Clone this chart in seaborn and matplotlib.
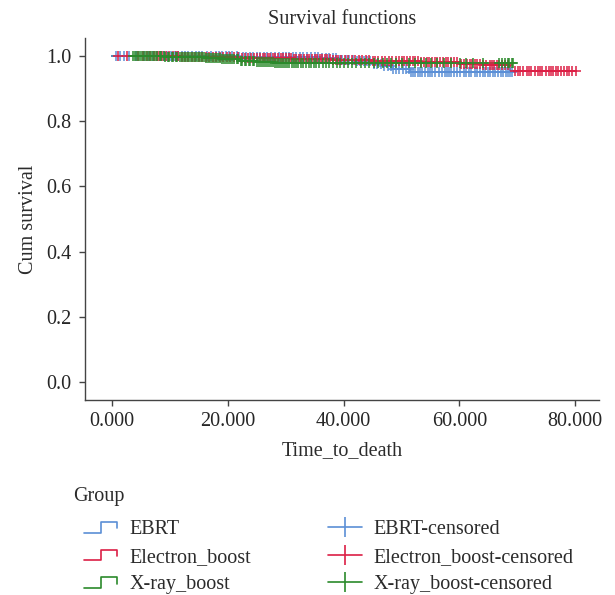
import numpy as np
import pandas as pd
import seaborn as sns
import matplotlib.pyplot as plt
from matplotlib.lines import Line2D
from matplotlib.legend_handler import HandlerBase

# Kaplan-Meier steps (time of event, survival after it)
groups = ["EBRT", "Electron_boost", "X-ray_boost"]
colors = {"EBRT": "#5b8fd6", "Electron_boost": "#dc1f45", "X-ray_boost": "#2b8a2b"}

ebrt_times = [8, 22, 36, 39, 42, 45, 46.5, 48.5, 51.5]
ebrt_surv = [0.999, 0.997, 0.993, 0.989, 0.984, 0.976, 0.968, 0.960, 0.952]
ebrt_cens = [0.6, 1.4, 2.1, 3.0, 4.2, 5.5, 6.3, 7.0, 7.7, 8.4, 9.0, 9.5, 10.2,
             10.8, 11.4, 12.0, 12.6, 13.1, 13.8, 14.5, 15.0, 15.6, 16.4, 17.1,
             17.9, 18.5, 19.0, 19.6, 20.2, 20.8, 21.5, 22.0, 22.6, 23.2, 23.8,
             24.4, 25.0, 25.6, 26.3, 26.8, 27.4, 28.1, 28.9, 29.5, 30.1, 30.6,
             31.2, 31.8, 32.4, 33.0, 33.6, 34.3, 35.0, 35.6, 36.2, 36.9, 37.5,
             38.1, 38.7, 39.3, 39.8, 40.4, 41.0, 41.6, 42.3, 42.9, 43.5, 44.0,
             44.6, 45.2, 45.8, 46.4, 47.0, 47.6, 48.1, 48.6, 49.0, 49.6, 50.2,
             50.8, 51.3, 51.7, 52.0, 52.4, 52.8, 53.2, 53.6, 54.0, 54.5, 54.9,
             55.3, 55.8, 56.4, 57.0, 57.5, 57.9, 58.2, 58.6, 59.0, 59.5, 60.1,
             60.7, 61.2, 61.6, 62.0, 62.6, 63.1, 63.5, 64.0, 64.4, 64.9, 65.3,
             65.8, 66.2, 66.7, 67.1, 67.6, 68.0, 68.4, 68.8, 69.1]

elec_times = [4, 12, 22, 31, 38, 45, 53, 60, 64, 68.8]
elec_surv = [0.999, 0.997, 0.994, 0.991, 0.988, 0.984, 0.981, 0.976, 0.971, 0.955]
elec_cens = [1.0, 2.5, 4.5, 5.3, 6.0, 6.6, 7.2, 7.7, 8.1, 8.7, 9.3, 9.9, 10.5,
             11.0, 11.4, 12.0, 12.6, 13.2, 13.8, 14.4, 15.0, 15.6, 16.2, 16.8,
             17.5, 18.0, 18.6, 19.2, 19.8, 20.4, 21.0, 21.7, 22.4, 23.0, 23.5,
             24.0, 24.6, 25.0, 25.5, 26.0, 26.4, 26.9, 27.3, 27.8, 28.2, 28.7,
             29.1, 29.6, 30.0, 30.5, 30.9, 31.4, 31.8, 32.3, 32.7, 33.2, 33.6,
             34.1, 34.5, 35.0, 35.4, 35.9, 36.3, 36.8, 37.2, 37.7, 38.1, 38.6,
             39.0, 39.6, 40.2, 40.8, 41.4, 42.0, 42.6, 43.2, 43.8, 44.4, 45.0,
             45.5, 46.0, 46.6, 47.2, 47.8, 48.4, 49.0, 49.6, 50.0, 50.5, 51.0,
             51.4, 51.9, 52.3, 52.8, 53.4, 53.9, 54.4, 54.8, 55.3, 55.8, 56.2,
             56.7, 57.1, 57.6, 58.0, 58.5, 59.0, 59.6, 60.2, 60.8, 61.3, 61.8,
             62.2, 62.6, 63.0, 63.6, 64.1, 64.6, 65.2, 65.6, 66.0, 66.5, 66.9,
             67.4, 67.8, 68.3, 69.6, 70.1, 70.5, 71.0, 71.6, 72.0, 72.4, 73.0,
             73.5, 73.9, 74.3, 74.9, 75.4, 75.8, 76.2, 76.7, 77.1, 77.6, 78.0,
             78.5, 79.0, 79.5, 80.1]

xray_times = [9, 16, 19, 22, 25, 28]
xray_surv = [0.998, 0.994, 0.990, 0.985, 0.981, 0.978]
xray_cens = [3.6, 4.0, 4.3, 4.7, 5.0, 5.4, 5.7, 6.1, 6.4, 6.8, 7.1, 7.5, 7.8,
             8.2, 8.5, 8.9, 9.2, 9.6, 9.9, 10.3, 10.6, 11.0, 11.3, 11.7, 12.0,
             12.4, 12.7, 13.1, 13.4, 13.8, 14.1, 14.5, 14.8, 15.2, 15.5, 15.9,
             16.2, 16.6, 16.9, 17.3, 17.6, 18.0, 18.3, 18.7, 19.0, 19.4, 19.7,
             20.1, 20.4, 20.8, 21.1, 21.5, 21.8, 22.2, 22.5, 22.9, 23.2, 23.6,
             23.9, 24.3, 24.6, 25.0, 25.3, 25.7, 26.0, 26.4, 26.7, 27.1, 27.4,
             27.8, 28.1, 28.5, 28.8, 29.2, 29.5, 29.9, 30.2, 30.6, 31.0, 31.4,
             31.8, 32.2, 32.6, 33.0, 33.5, 34.0, 34.4, 34.9, 35.3, 35.8, 36.4,
             36.9, 37.5, 38.1, 38.8, 39.4, 40.1, 40.8, 41.5, 42.2, 43.0, 43.7,
             44.4, 45.2, 46.0, 46.8, 47.5, 48.2, 49.0, 50.1, 51.2, 52.3, 53.4,
             54.2, 55.0, 56.1, 57.3, 58.6, 60.1, 61.2, 62.4, 64.0, 66.8, 67.4,
             67.9, 68.3, 68.6, 69.0, 69.2]

steps = {"EBRT": (ebrt_times, ebrt_surv, ebrt_cens),
         "Electron_boost": (elec_times, elec_surv, elec_cens),
         "X-ray_boost": (xray_times, xray_surv, xray_cens)}

sns.set_theme(style="ticks")
plt.rcParams["font.family"] = ["Liberation Serif", "DejaVu Serif"]
plt.rcParams["text.color"] = "#2b2b2b"
plt.rcParams["axes.labelcolor"] = "#2b2b2b"
fs = 14.5

fig = plt.figure(figsize=(6.15, 5.95), dpi=100)
ax = fig.add_axes([85 / 615, 1 - 400 / 595, 514 / 615, 362 / 595])

for g in groups:
    t, s, c = steps[g]
    end = max(c)
    curve = pd.DataFrame({"time": [0] + t + [end], "surv": [1.0] + s + [s[-1]]})
    sns.lineplot(data=curve, x="time", y="surv", drawstyle="steps-post",
                 color=colors[g], lw=1.3, ax=ax, estimator=None, sort=False)
    # censored marks sit on the step curve
    idx = np.searchsorted(curve["time"].values, c, side="right") - 1
    cens = pd.DataFrame({"time": c, "surv": curve["surv"].values[idx]})
    sns.scatterplot(data=cens, x="time", y="surv", marker="+", s=50,
                    color=colors[g], linewidth=1.1, ax=ax, zorder=3)

ax.set_xlim(-4.67, 84.1)
ax.set_ylim(-0.055, 1.055)
ax.set_xticks([0, 20, 40, 60, 80])
ax.set_xticklabels([f"{v:.3f}" for v in [0, 20, 40, 60, 80]])
ax.set_yticks([0, 0.2, 0.4, 0.6, 0.8, 1.0])
ax.set_yticklabels([f"{v:.1f}" for v in [0, 0.2, 0.4, 0.6, 0.8, 1.0]])
ax.tick_params(labelsize=fs, length=4, width=1, color="#444444", pad=5)
ax.tick_params(axis="y", pad=6)
for sp in ["left", "bottom"]:
    ax.spines[sp].set_color("#444444")
    ax.spines[sp].set_linewidth(1)
sns.despine(ax=ax)
ax.set_xlabel("Time_to_death", fontsize=fs, labelpad=7)
ax.set_ylabel("Cum survival", fontsize=fs, labelpad=6)
ax.set_title("Survival functions", fontsize=fs, pad=10)


class StepHandler(HandlerBase):
    def create_artists(self, legend, orig_handle, xdescent, ydescent,
                       width, height, fontsize, trans):
        xs = np.array([0, 0.5, 0.5, 1.0, 1.0]) * width - xdescent
        ys = np.array([0.1, 0.1, 0.85, 0.85, 0.4]) * height - ydescent
        ln = Line2D(xs, ys, color=orig_handle.get_color(), lw=1.2)
        ln.set_transform(trans)
        return [ln]


step_handles = [Line2D([], [], color=colors[g], lw=1.2) for g in groups]
cens_handles = [Line2D([0], [0], color=colors[g], lw=1.2, marker="|",
                       markersize=14, markeredgewidth=1.2) for g in groups]
labels = groups + [g + "-censored" for g in groups]
handler_map = {h: StepHandler() for h in step_handles}
fig.text(73 / 615, 1 - 497 / 595, "Group", fontsize=fs, va="center", ha="left")
fig.legend(step_handles + cens_handles, labels, handler_map=handler_map,
           ncol=2, frameon=False, loc="upper left",
           bbox_to_anchor=(84 / 615, 1 - 520 / 595), fontsize=fs,
           numpoints=1, handlelength=1.65, handletextpad=0.6,
           columnspacing=3.85, labelspacing=0.42, borderpad=0,
           borderaxespad=0)

fig.savefig("out.png", dpi=100)
